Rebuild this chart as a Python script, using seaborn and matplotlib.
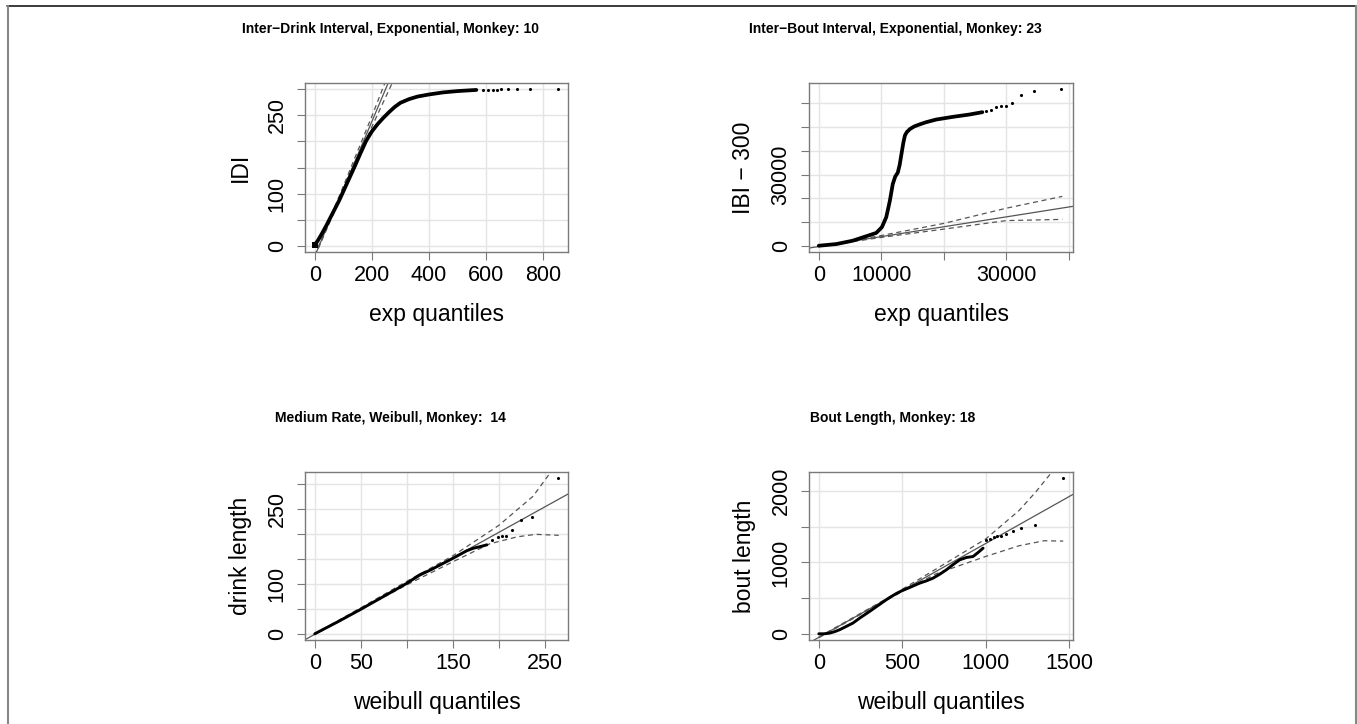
import matplotlib
matplotlib.use("Agg")
import matplotlib.pyplot as plt
from matplotlib.lines import Line2D
import seaborn as sns

# ---------------- data ----------------
# Panel 1: Inter-Drink Interval, exponential QQ
idi_q = [0, 10, 25, 40, 55, 70, 85, 100, 120, 140, 160, 180, 200, 220, 240, 260,
         280, 300, 330, 360, 400, 450, 500, 566]
idi_v = [2, 9, 23, 38, 54, 70, 86, 104, 128, 152, 177, 201, 219, 233, 245, 256,
         266, 274, 281, 286, 290, 294, 296.5, 298.7]
idi_tail_q = [590, 607, 625, 640, 654, 677, 707, 753, 853]
idi_tail_v = [299, 299, 299.5, 299.5, 300, 300, 300, 300, 300]
idi_ref_q = [-40, 300]
idi_ref_v = [-71.6, 367]
idi_env_q = [0, 100, 200, 280]
idi_env_up = [-19, 114, 248, 360]
idi_env_lo = [-21, 104, 228, 322]

# Panel 2: Inter-Bout Interval, exponential QQ
ibi_q = [0, 2800, 5400, 7600, 9200, 10100, 10500, 10800, 11100, 11400, 11850, 12250,
         12650, 12950, 13250, 13550, 13800, 14100, 14600, 15300, 16100, 17100, 18800,
         21400, 24100, 26200]
ibi_v = [0, 700, 2100, 4000, 5400, 7800, 10200, 12000, 15500, 19200, 26000, 29200,
         30800, 34000, 38800, 43500, 46500, 47900, 49200, 50300, 51100, 52000, 53200,
         54300, 55300, 56300]
ibi_tail_q = [26800, 27600, 28400, 29200, 30000, 30900, 32400, 34500, 38800]
ibi_tail_v = [56600, 57200, 58400, 58900, 59100, 60300, 63400, 65200, 66000]
ibi_ref_q = [-2000, 41000]
ibi_ref_v = [-1160, 16730]
ibi_env_q = [0, 10000, 20000, 30000, 39000]
ibi_env_up = [-300, 4300, 9400, 15800, 20800]
ibi_env_lo = [-360, 3500, 7000, 10600, 11100]

# Panel 3: Medium Rate, Weibull QQ
drink_q = [0, 25, 50, 75, 100, 114, 125, 150, 165, 172, 181, 187]
drink_v = [0, 24, 49, 75, 101, 118, 127, 151, 166, 171, 175, 178]
drink_tail_q = [193, 198.6, 203, 207.6, 213.8, 223.6, 235.5, 264.5]
drink_tail_v = [187, 193, 196, 196, 206.7, 226.7, 233.3, 311.3]
drink_ref_q = [-20, 290]
drink_ref_v = [-21.4, 294.8]
drink_up_q = [0, 50, 100, 150, 200, 237, 257, 265]
drink_up_v = [0, 52, 105, 156, 217, 275, 325, 345]
drink_lo_q = [0, 50, 100, 150, 190, 220, 240, 265]
drink_lo_v = [-1, 49, 98, 144, 180, 194, 199, 197]

# Panel 4: Bout Length, Weibull QQ
bout_q = [0, 30, 64, 95, 124, 160, 204, 250, 304, 354, 404, 450, 500, 550, 604, 644,
          684, 724, 764, 804, 844, 884, 924, 954, 984]
bout_v = [0, 0, 9, 30, 56, 98, 150, 228, 313, 395, 477, 545, 607, 655, 710, 742,
          780, 835, 897, 970, 1037, 1070, 1084, 1140, 1201]
bout_tail_q = [1004, 1028, 1048, 1068, 1094, 1124, 1164, 1214, 1294, 1464]
bout_tail_v = [1318, 1327, 1355, 1365, 1374, 1402, 1435, 1481, 1528, 2182]
bout_ref_q = [-100, 1600]
bout_ref_v = [-182, 2057]
bout_up_q = [0, 400, 700, 1000, 1200, 1300, 1400, 1464]
bout_up_v = [-45, 485, 905, 1330, 1730, 1990, 2280, 2480]
bout_lo_q = [0, 400, 700, 1000, 1200, 1350, 1464]
bout_lo_v = [-55, 468, 840, 1085, 1235, 1305, 1300]

titles = ["Inter\u2212Drink Interval, Exponential, Monkey: 10",
          "Inter\u2212Bout Interval, Exponential, Monkey: 23",
          "Medium Rate, Weibull, Monkey:  14",
          "Bout Length, Monkey: 18"]
xlabels = ["exp quantiles", "exp quantiles", "weibull quantiles", "weibull quantiles"]
ylabels = ["IDI", "IBI \u2212 300", "drink length", "bout length"]

x_ticks = [[0, 200, 400, 600, 800],
           [0, 10000, 20000, 30000, 40000],
           [0, 50, 100, 150, 200, 250],
           [0, 500, 1000, 1500]]
x_ticklabels = [["0", "200", "400", "600", "800"],
                ["0", "10000", "", "30000", ""],
                ["0", "50", "", "150", "", "250"],
                ["0", "500", "1000", "1500"]]
y_ticks = [[0, 50, 100, 150, 200, 250, 300],
           [0, 10000, 20000, 30000, 40000, 50000, 60000],
           [0, 50, 100, 150, 200, 250, 300],
           [0, 500, 1000, 1500, 2000]]
y_ticklabels = [["0", "", "100", "", "", "250", ""],
                ["0", "", "", "30000", "", "", ""],
                ["0", "", "100", "", "", "250", ""],
                ["0", "", "1000", "", "2000"]]
x_limits = [(-34, 887), (-1566, 40716), (-10.6, 275.1), (-58.6, 1522.6)]
y_limits = [(-12, 312), (-2640, 68600), (-12.4, 323.7), (-87, 2269)]

# ---------------- style ----------------
sns.set_theme(style="white")
plt.rcParams["font.family"] = ["Liberation Sans", "DejaVu Sans"]

W, H = 1357, 724
fig = plt.figure(figsize=(W / 100, H / 100), dpi=100)

# axes boxes in pixels: (left, top, right, bottom)
boxes = [(305, 83, 568, 252), (809, 83, 1073, 252),
         (305, 472, 568, 640), (809, 472, 1073, 640)]
title_pos = [(391, 29), (895, 29), (390, 418), (893, 418)]
curve_lw = [2.7, 2.7, 2.1, 2.1]
origin_blob = [True, False, False, False]

panels = [
    (idi_q, idi_v, idi_tail_q, idi_tail_v, idi_ref_q, idi_ref_v,
     idi_env_q, idi_env_up, idi_env_q, idi_env_lo),
    (ibi_q, ibi_v, ibi_tail_q, ibi_tail_v, ibi_ref_q, ibi_ref_v,
     ibi_env_q, ibi_env_up, ibi_env_q, ibi_env_lo),
    (drink_q, drink_v, drink_tail_q, drink_tail_v, drink_ref_q, drink_ref_v,
     drink_up_q, drink_up_v, drink_lo_q, drink_lo_v),
    (bout_q, bout_v, bout_tail_q, bout_tail_v, bout_ref_q, bout_ref_v,
     bout_up_q, bout_up_v, bout_lo_q, bout_lo_v),
]

ref_color = "#555555"
frame_color = "#7a7a7a"

for i, (box, p) in enumerate(zip(boxes, panels)):
    l, t, r, b = box
    ax = fig.add_axes([l / W, 1 - b / H, (r - l) / W, (b - t) / H])
    q, v, tq, tv, rq, rv, uq, uv, lq, lv = p

    ax.set_xlim(*x_limits[i])
    ax.set_ylim(*y_limits[i])
    ax.set_xticks(x_ticks[i])
    ax.set_xticklabels(x_ticklabels[i])
    ax.set_yticks(y_ticks[i])
    ax.set_yticklabels(y_ticklabels[i], rotation=90, va="center")
    ax.grid(True, color="#e4e4e4", lw=1.0)
    ax.set_axisbelow(True)

    # reference line and envelope
    sns.lineplot(x=rq, y=rv, ax=ax, color=ref_color, lw=0.9, sort=False,
                 estimator=None, zorder=2)
    sns.lineplot(x=uq, y=uv, ax=ax, color=ref_color, lw=0.9, sort=False,
                 estimator=None, zorder=2, dashes=False, linestyle=(0, (4, 3)))
    sns.lineplot(x=lq, y=lv, ax=ax, color=ref_color, lw=0.9, sort=False,
                 estimator=None, zorder=2, dashes=False, linestyle=(0, (4, 3)))
    # dense quantile points
    sns.lineplot(x=q, y=v, ax=ax, color="black", lw=curve_lw[i], sort=False,
                 estimator=None, zorder=3, solid_capstyle="round",
                 solid_joinstyle="round")
    if origin_blob[i]:
        sns.scatterplot(x=q[:1], y=v[:1], ax=ax, color="black", s=18, marker="s",
                        linewidth=0, zorder=3)
    sns.scatterplot(x=tq, y=tv, ax=ax, color="black", s=5, marker="o",
                    linewidth=0, zorder=3)

    for sp in ax.spines.values():
        sp.set_visible(True)
        sp.set_color(frame_color)
        sp.set_linewidth(1.0)
    ax.tick_params(axis="both", which="both", direction="out", length=5.5,
                   width=0.8, color=frame_color, labelsize=15.5,
                   labelcolor="black", bottom=True, left=True)
    ax.tick_params(axis="x", pad=4)
    ax.tick_params(axis="y", pad=7)

    ax.set_xlabel(xlabels[i], fontsize=16.5, color="black")
    ax.set_ylabel(ylabels[i], fontsize=16.5, color="black")
    ax.xaxis.set_label_coords(0.5, -62 / (b - t))
    ax.xaxis.label.set_va("center")
    ax.yaxis.set_label_coords(-65 / (r - l), 0.5)
    ax.yaxis.label.set_va("center")

    tx, ty = title_pos[i]
    fig.text(tx / W, 1 - ty / H, titles[i], ha="center", va="center",
             fontsize=10.0, fontweight="bold", color="black")

# outer frame lines
fig.add_artist(Line2D([7 / W, 1355.5 / W], [1 - 6 / H, 1 - 6 / H],
                      transform=fig.transFigure, color="#1a1a1a", lw=1.2))
fig.add_artist(Line2D([7.5 / W, 7.5 / W], [0, 1 - 6 / H],
                      transform=fig.transFigure, color="#888888", lw=1.5))
fig.add_artist(Line2D([1355.5 / W, 1355.5 / W], [0, 1 - 6 / H],
                      transform=fig.transFigure, color="#888888", lw=1.5))

fig.savefig("out.png", dpi=100)
